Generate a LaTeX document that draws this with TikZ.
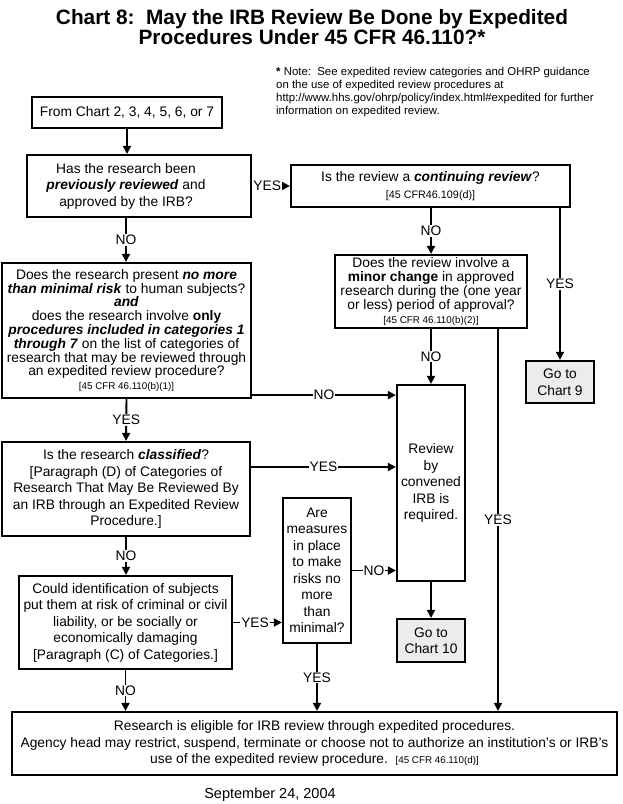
\documentclass[tikz,border=0pt]{standalone}
\usepackage{fontspec}
\setmainfont{Liberation Sans}
\usetikzlibrary{arrows.meta,calc}
\newcommand\myfs[2]{\fontsize{#1}{#2}\selectfont}
\newcommand\bi[1]{\textbf{\textit{#1}}}
\newcommand\smallref[1]{{\myfs{9.8}{11}#1}}
\tikzset{
  box/.style={draw, line width=2.2pt, align=center, inner sep=0pt, font=\myfs{13.8}{16.5}},
  tight/.style={font=\myfs{13.8}{13.8}},
  goto/.style={box, fill=gray!15},
  arr/.style={line width=1.9pt, -{Triangle[length=8pt,width=8pt]}},
  lab/.style={fill=white, inner sep=1pt, font=\myfs{13.8}{15}},
}
\begin{document}
\begin{tikzpicture}[x=1pt,y=-1pt]
\useasboundingbox (0,0) rectangle (623,804);
% title and note
\node[align=center, font=\bfseries\myfs{20.8}{20}] (title) at (312,27)
  {Chart 8:\ \ May the IRB Review Be Done by Expedited\\Procedures Under 45 CFR 46.110?*};
\node[anchor=north west, align=left, inner sep=0pt, font=\myfs{11.4}{13}] (note) at (276,67)
  {\textbf{*} Note:\ \ See expedited review categories and OHRP guidance\\
   on the use of expedited review procedures at\\
   http://www.hhs.gov/ohrp/policy/index.html\#expedited for further\\
   information on expedited review.};
% boxes
\node[box, minimum width=190pt, minimum height=31pt] (from) at (127,112.5)
  {From Chart 2, 3, 4, 5, 6, or 7};
\node[box, minimum width=224pt, minimum height=62pt] (q1) at (139,186) {};
\node[align=center, inner sep=0pt, font=\myfs{13.8}{16.5}] (q1t) at (126,186)
  {Has the research been\\ \bi{previously reviewed} and\\ approved by the IRB?};
\node[box, minimum width=279pt, minimum height=42pt] (q2) at (430.5,186)
  {Is the review a \bi{continuing review}?\\ {\myfs{10.8}{12}[45 CFR46.109(d)]}};
\node[box, tight, minimum width=192pt, minimum height=73pt] (q3) at (431,291.5)
  {Does the review involve a\\ \textbf{minor change} in approved\\ research during the (one year\\ or less) period of approval?\\ \smallref{[45 CFR 46.110(b)(2)]}};
\node[goto, minimum width=68pt, minimum height=42pt] (c9) at (560,382)
  {Go to\\ Chart 9};
\node[box, tight, minimum width=249pt, minimum height=135pt] (q4) at (126.5,330.5)
  {Does the research present \bi{no more}\\ \bi{than minimal risk} to human subjects?\\ \bi{and}\\
   does the research involve \textbf{only}\\ \bi{procedures included in categories 1}\\
   \bi{through 7} on the list of categories of\\ research that may be reviewed through\\
   an expedited review procedure?\\ \smallref{[45 CFR 46.110(b)(1)]}};
\node[box, minimum width=68pt, minimum height=196pt] (rev) at (431,483)
  {Review\\ by\\ convened\\ IRB is\\ required.};
\node[box, minimum width=248pt, minimum height=94pt] (q5) at (126,489)
  {Is the research \bi{classified}?\\{}[Paragraph (D) of Categories of\\ Research That May Be Reviewed By\\
   an IRB through an Expedited Review\\ Procedure.]};
\node[box, minimum width=213pt, minimum height=93pt] (q6) at (125.5,622.5)
  {Could identification of subjects\\ put them at risk of criminal or civil\\ liability, or be socially or\\
   economically damaging\\{}[Paragraph (C) of Categories.]};
\node[box, minimum width=68pt, minimum height=145pt] (q7) at (317,570.5)
  {Are\\ measures\\ in place\\ to make\\ risks no\\ more\\ than\\ minimal?};
\node[goto, minimum width=68pt, minimum height=43pt] (c10) at (431,640.5)
  {Go to\\ Chart 10};
\node[box, minimum width=605pt, minimum height=63pt] (fin) at (314.5,743.5)
  {Research is eligible for IRB review through expedited procedures.\\
   Agency head may restrict, suspend, terminate or choose not to authorize an institution’s or IRB’s\\
   use of the expedited review procedure.\ \ \smallref{[45 CFR 46.110(d)]}};
\node[font=\myfs{14.5}{16}] (date) at (270,795) {September 24, 2004};
% connectors
\draw[arr] (from.south) -- (from.south |- q1.north);
\draw[arr] (q1.east) -- node[lab, pos=0.4] {YES} (q2.west);
\draw[arr] (q1t |- q1.south) -- node[lab] {NO} (q1t |- q4.north);
\draw[arr] (q3.north |- q2.south) -- node[lab] {NO} (q3.north);
\draw[arr] (c9.north |- q2.south) -- node[lab, pos=0.5] {YES} (c9.north);
\draw[arr] (q3.south) -- node[lab] {NO} (rev.north);
\coordinate (q3r) at ([xshift=67pt]q3.south);
\draw[arr] (q3r) -- node[lab, pos=0.5] {YES} (q3r |- fin.north);
\coordinate (q4r) at ([yshift=4pt]q4.south east);
\draw[arr] (q4r) -- node[lab, pos=0.5] {NO} (q4r -| rev.west);
\draw[arr] (q4.south) -- node[lab] {YES} (q5.north);
\coordinate (q5r) at ([yshift=22pt]q5.east);
\draw[arr] (q5r) -- node[lab, pos=0.5] {YES} (q5r -| rev.west);
\draw[arr] (q5.south) -- node[lab] {NO} (q5.south |- q6.north);
\draw[arr] (q6.east) -- node[lab, pos=0.45] {YES} (q6.east -| q7.west);
\draw[arr] (q7.east) -- node[lab, pos=0.5] {NO} (q7.east -| rev.west);
\draw[arr] (rev.south) -- (c10.north);
\draw[arr] (q7.south) -- node[lab, pos=0.5] {YES} (q7.south |- fin.north);
\draw[arr] (q6.south) -- node[lab, pos=0.5] {NO} (q6.south |- fin.north);
\end{tikzpicture}
\end{document}
